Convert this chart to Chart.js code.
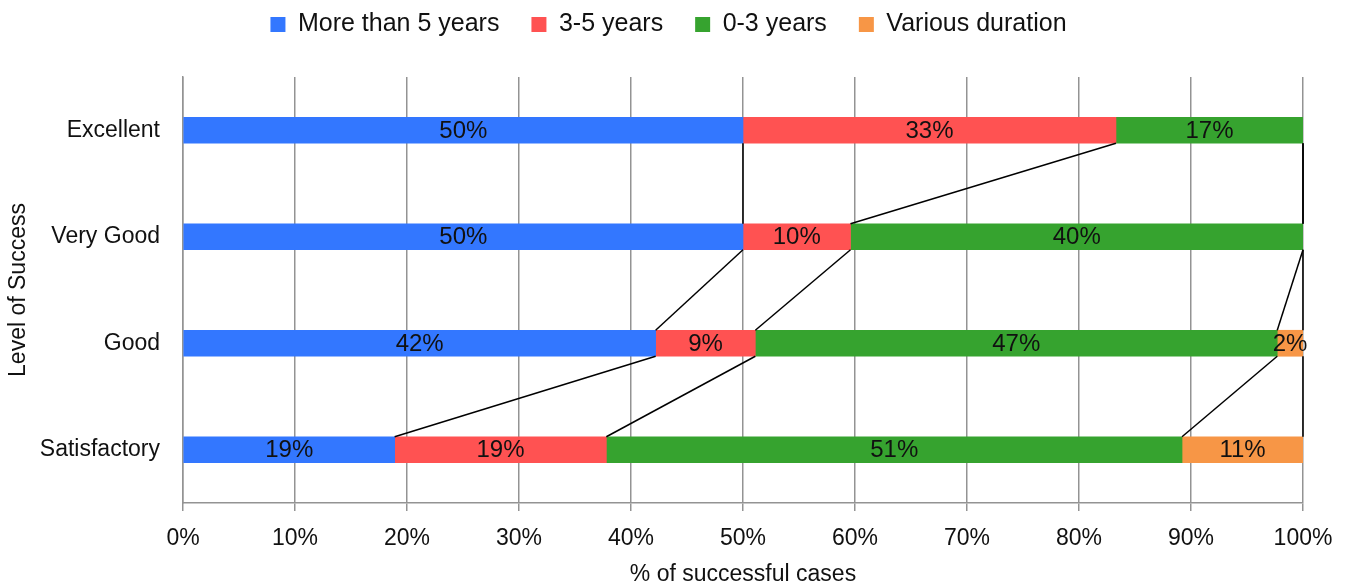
<!DOCTYPE html>
<html>
<head>
<meta charset="utf-8">
<title>Level of Success</title>
<script src="https://cdn.jsdelivr.net/npm/chart.js@4.4.1/dist/chart.umd.min.js"></script>
<style>
  html, body { margin: 0; padding: 0; background: #fff; }
  #wrap { width: 1349px; height: 587px; position: relative; }
</style>
</head>
<body>
<div id="wrap"><canvas id="successChart"></canvas></div>
<script>
// =======================================
// DATA
// =======================================
const categories = ["Excellent", "Very Good", "Good", "Satisfactory"];
const seriesNames = ["More than 5 years", "3-5 years", "0-3 years", "Various duration"];
const moreThan5 = [50, 50, 42.2, 18.9];
const threeToFive = [33.3, 9.6, 8.9, 18.9];
const zeroToThree = [16.7, 40.4, 46.6, 51.4];
const various = [0, 0, 2.3, 10.8];
const xTickStep = 10;

const seriesColors = ["#3377ff", "#ff5252", "#36a32f", "#f79646"];
const FONT = "'Liberation Sans', Arial, Helvetica, sans-serif";

// =======================================
// PLUGINS
// =======================================
// legend: keep item spacing but place it near the top and leave room below
const legendSpacing = {
  id: "legendSpacing",
  beforeLayout(chart) {
    const legend = chart.legend;
    if (!legend || legend._patched) return;
    const fit = legend.fit;
    legend.fit = function () {
      fit.call(this);
      this.height = 97;
    };
    legend._patched = true;
  },
  afterLayout(chart) {
    if (!chart.legend) return;
    chart.legend.left = -6;
    chart.legend.right = chart.width - 6;
  },
};

// series lines between stacked segment ends + labels in segments
const seriesLines = {
  id: "seriesLines",
  afterDatasetsDraw(chart) {
    const ctx = chart.ctx;
    const xScale = chart.scales.x;
    const sets = chart.data.datasets;

    ctx.save();
    ctx.strokeStyle = "#000";
    ctx.lineWidth = 1.5;
    for (let i = 0; i < sets.length; i++) {
      const meta = chart.getDatasetMeta(i);
      const cum = categories.map((_, j) => {
        let s = 0;
        for (let k = 0; k <= i; k++) s += sets[k].data[j];
        return s;
      });
      for (let j = 0; j < categories.length - 1; j++) {
        const a = meta.data[j];
        const b = meta.data[j + 1];
        ctx.beginPath();
        ctx.moveTo(xScale.getPixelForValue(cum[j]), a.y + a.height / 2);
        ctx.lineTo(xScale.getPixelForValue(cum[j + 1]), b.y - b.height / 2);
        ctx.stroke();
      }
    }

    ctx.fillStyle = "#111";
    ctx.font = "24px " + FONT;
    ctx.textAlign = "center";
    ctx.textBaseline = "middle";
    sets.forEach((ds, i) => {
      const meta = chart.getDatasetMeta(i);
      meta.data.forEach((bar, j) => {
        const v = ds.data[j];
        if (!v) return;
        const p = bar.getCenterPoint();
        ctx.fillText(Math.round(v) + "%", p.x, p.y + 1);
      });
    });
    ctx.restore();
  },
};

// =======================================
// CHART
// =======================================
const seriesData = [moreThan5, threeToFive, zeroToThree, various];

new Chart(document.getElementById("successChart"), {
  type: "bar",
  data: {
    labels: categories,
    datasets: seriesNames.map((name, i) => ({
      label: name,
      data: seriesData[i],
      backgroundColor: seriesColors[i],
      borderWidth: 0,
      barThickness: 26,
    })),
  },
  options: {
    indexAxis: "y",
    responsive: true,
    maintainAspectRatio: false,
    animation: false,
    layout: { padding: { top: -20, right: 46, bottom: 0, left: 0 } },
    plugins: {
      legend: {
        position: "top",
        labels: {
          boxWidth: 15,
          boxHeight: 15,
          padding: 32,
          color: "#111",
          font: { family: FONT, size: 25 },
        },
      },
      tooltip: { enabled: false },
    },
    scales: {
      x: {
        stacked: true,
        min: 0,
        max: 100,
        ticks: {
          stepSize: xTickStep,
          padding: 14,
          color: "#111",
          font: { family: FONT, size: 23 },
          callback: (v) => v + "%",
        },
        grid: { color: "#939393", lineWidth: 1.5, tickLength: 8 },
        border: { color: "#939393", width: 1.5 },
        title: {
          display: true,
          text: "% of successful cases",
          color: "#111",
          font: { family: FONT, size: 23, lineHeight: 1.05 },
          padding: { top: 0, bottom: 0 },
        },
        afterFit: (scale) => { scale.height = 84; },
      },
      y: {
        stacked: true,
        ticks: {
          padding: 23,
          color: "#111",
          font: { family: FONT, size: 23 },
        },
        grid: { drawOnChartArea: false, drawTicks: false },
        border: { color: "#939393", width: 1.5 },
        title: {
          display: true,
          text: "Level of Success",
          color: "#111",
          font: { family: FONT, size: 23 },
          padding: { top: 5, bottom: 0 },
        },
        afterFit: (scale) => { scale.width = 183; },
      },
    },
  },
  plugins: [legendSpacing, seriesLines],
});
</script>
</body>
</html>
